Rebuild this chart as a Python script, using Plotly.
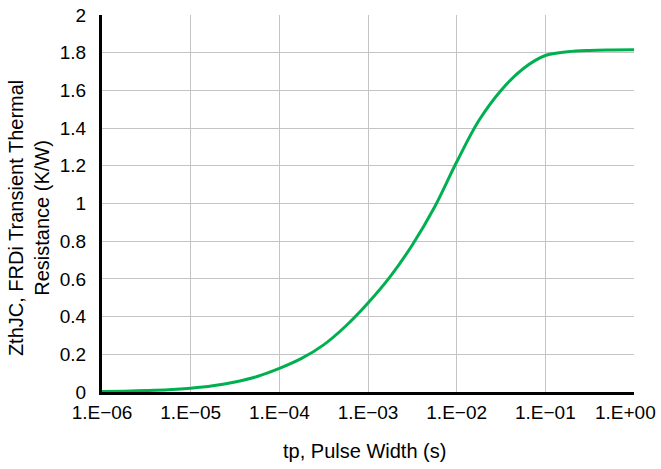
import plotly.graph_objects as go

# Pulse width (s) and transient thermal resistance (K/W)
pulse_width = [1e-6, 1.78e-6, 3.16e-6, 5.62e-6,
               1e-5, 1.78e-5, 3.16e-5, 5.62e-5,
               1e-4, 1.78e-4, 3.16e-4, 5.62e-4,
               1e-3, 1.78e-3, 3.16e-3, 5.62e-3,
               1e-2, 1.78e-2, 3.16e-2, 5.62e-2,
               1e-1, 1.78e-1, 3.16e-1, 5.62e-1, 1e0]
zth = [0.003, 0.0045, 0.0075, 0.012,
       0.02, 0.033, 0.053, 0.082,
       0.125, 0.178, 0.25, 0.35,
       0.472, 0.612, 0.78, 0.98,
       1.22, 1.44, 1.60, 1.715,
       1.785, 1.805, 1.812, 1.814, 1.815]

x_tick_vals = [1e-6, 1e-5, 1e-4, 1e-3, 1e-2, 1e-1, 1e0]
x_tick_text = ["1.E\u221206", "1.E\u221205", "1.E\u221204", "1.E\u221203",
               "1.E\u221202", "1.E\u221201", ""]
last_x_tick_text = "1.E+00"   # drawn right-aligned so it stays inside the figure
y_tick_vals = [0, 0.2, 0.4, 0.6, 0.8, 1, 1.2, 1.4, 1.6, 1.8, 2]
y_tick_text = ["0", "0.2", "0.4", "0.6", "0.8", "1", "1.2", "1.4", "1.6", "1.8", "2"]

x_title = "tp, Pulse Width (s)"
y_title = "ZthJC, FRDi Transient Thermal<br>Resistance (K/W)"

FONT = "Liberation Sans, Arial, Helvetica, sans-serif"

fig = go.Figure()
fig.add_trace(go.Scatter(
    x=pulse_width, y=zth, mode="lines",
    line=dict(color="#00b050", width=3, shape="spline", smoothing=1.0),
    showlegend=False, hoverinfo="x+y",
))

fig.update_layout(
    width=661, height=469,
    margin=dict(l=102, r=27, t=14.5, b=76.5),
    paper_bgcolor="white", plot_bgcolor="white",
    font=dict(family=FONT, color="black", size=19),
    xaxis=dict(
        type="log", range=[-6.0001, 0.0001],
        tickvals=x_tick_vals, ticktext=x_tick_text,
        tickfont=dict(size=19),
        showgrid=True, gridcolor="#c4c4c4", gridwidth=1.2,
        showline=True, linecolor="black", linewidth=3,
        ticks="", ticklabelstandoff=1,
        zeroline=False, automargin=False,
    ),
    yaxis=dict(
        range=[0, 2],
        tickvals=y_tick_vals, ticktext=y_tick_text,
        tickfont=dict(size=19),
        showgrid=True, gridcolor="#c4c4c4", gridwidth=1.2,
        showline=True, linecolor="black", linewidth=3,
        ticks="", ticklabelstandoff=9, ticklabeloverflow="allow",
        zeroline=False, automargin=False,
    ),
    annotations=[
        dict(text=last_x_tick_text, xref="x", yref="paper", x=0, y=0,
             xanchor="right", yanchor="middle", xshift=24, yshift=-20,
             showarrow=False, font=dict(size=19)),
        dict(text=x_title, xref="paper", yref="paper", x=0.4925, y=-0.1574,
             xanchor="center", yanchor="middle", showarrow=False,
             font=dict(size=20)),
        dict(text=y_title, xref="paper", yref="paper", x=-0.137, y=0.4616,
             xanchor="center", yanchor="middle", showarrow=False, textangle=-90,
             font=dict(size=20)),
    ],
)

# remove the default 8px page margin so the figure fills the window exactly
fig.write_html("out.html", config={"displayModeBar": False},
               post_script="document.body.style.margin='0';")
